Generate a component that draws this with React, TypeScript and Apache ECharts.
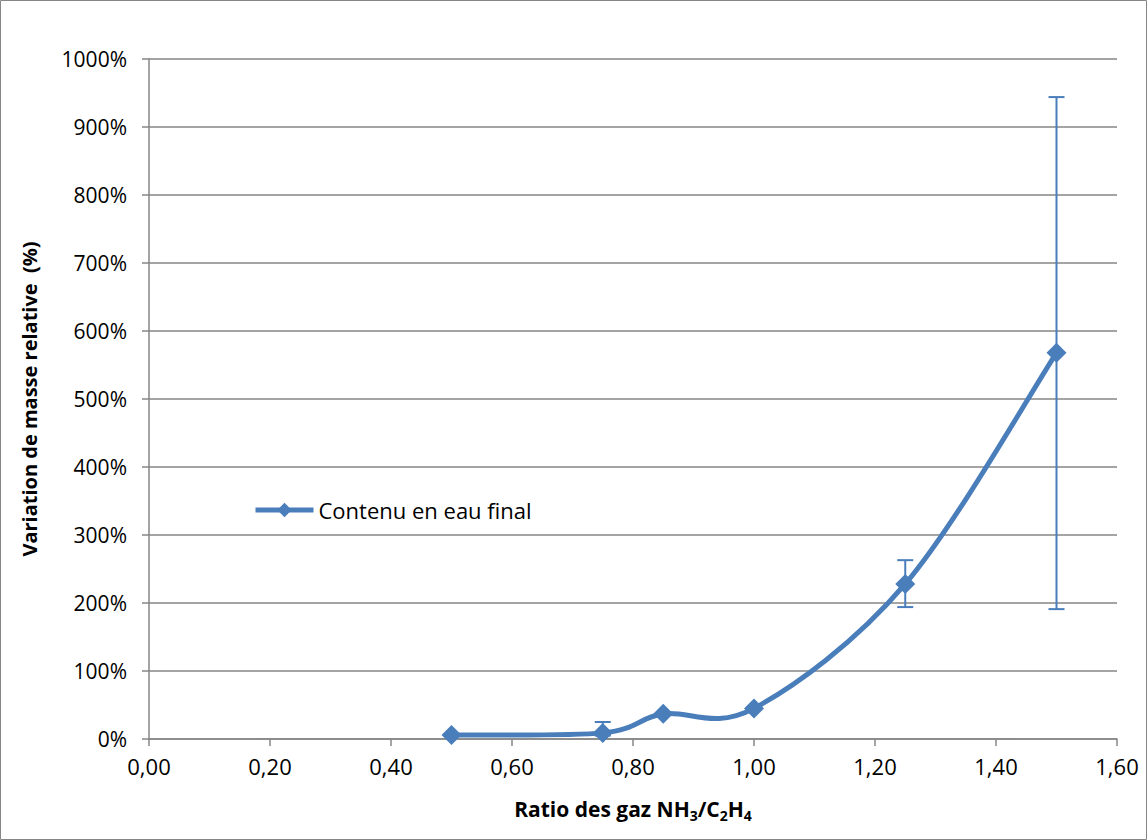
import React, { useEffect, useRef } from "react";
import * as echarts from "echarts";

const ratios = [0.5, 0.75, 0.85, 1.0, 1.25, 1.5];
const waterContent = [6, 9, 37, 45, 228, 568];
const errLow = [6, 5, 37, 45, 194, 191];
const errHigh = [6, 25, 37, 45, 263, 944];
const seriesName = "Contenu en eau final";
const yTitle = "Variation de masse relative  (%)";

const BLUE = "#4A7EBB";
const GRAY = "#868686";
const FONT = "'Open Sans', 'Noto Sans', sans-serif";

export default function App() {
  const ref = useRef<HTMLDivElement>(null);
  useEffect(() => {
    const chart = echarts.init(ref.current!, null, { renderer: "svg" });
    const errData = ratios
      .map((x, i) => [x, errLow[i], errHigh[i]])
      .filter((d) => d[1] !== d[2]);
    const pts = ratios.map((x, i) => [x, waterContent[i]]);
    chart.setOption({
      animation: false,
      backgroundColor: "#fff",
      grid: { left: 149, right: 30, top: 59, bottom: 101 },
      legend: {
        left: 248,
        top: 494,
        itemWidth: 58,
        itemHeight: 18,
        itemGap: 4,
        textStyle: { fontFamily: FONT, fontSize: 22, color: "#000" },
        data: [
          {
            name: seriesName,
            lineStyle: { color: BLUE, width: 5, opacity: 1 },
            itemStyle: { color: BLUE },
          },
        ],
      },
      xAxis: {
        type: "value",
        min: 0,
        max: 1.6,
        interval: 0.2,
        name: "{b|Ratio des gaz NH}{s|3}{b|/C}{s|2}{b|H}{s|4}",
        nameLocation: "middle",
        nameGap: 56,
        nameTextStyle: {
          rich: {
            b: { fontFamily: FONT, fontSize: 21, fontWeight: "bold", color: "#000" },
            s: { fontFamily: FONT, fontSize: 14, fontWeight: "bold", color: "#000", padding: [13, 0, 0, 0] },
          },
        },
        axisLine: { show: true, lineStyle: { color: GRAY, width: 1.5 } },
        axisTick: { show: true, length: 7, lineStyle: { color: GRAY, width: 1.5 } },
        axisLabel: {
          fontFamily: FONT,
          fontSize: 22,
          color: "#000",
          margin: 16,
          formatter: (v: number) => v.toFixed(2).replace(".", ","),
        },
        splitLine: { show: false },
      },
      yAxis: {
        type: "value",
        min: 0,
        max: 1000,
        interval: 100,
        name: yTitle,
        nameLocation: "middle",
        nameGap: 110,
        nameTextStyle: { fontFamily: FONT, fontSize: 20, fontWeight: "bold", color: "#000" },
        axisLine: { show: true, lineStyle: { color: GRAY, width: 1.5 } },
        axisTick: { show: true, length: 7, lineStyle: { color: GRAY, width: 1.5 } },
        axisLabel: {
          fontFamily: FONT,
          fontSize: 21,
          color: "#000",
          margin: 22,
          formatter: (v: number) => v + "%",
        },
        splitLine: { show: true, lineStyle: { color: GRAY, width: 1.5 } },
      },
      graphic: [
        {
          type: "rect",
          shape: { x: 0.5, y: 0.5, width: 1146, height: 839 },
          style: { fill: "none", stroke: GRAY, lineWidth: 1 },
          silent: true,
        },
      ],
      series: [
        {
          type: "custom",
          z: 2,
          data: pts,
          renderItem: (params: any, api: any) => {
            const i = params.dataIndex;
            if (i >= pts.length - 1) return null;
            const P = (k: number) => {
              const kk = Math.max(0, Math.min(pts.length - 1, k));
              return api.coord(pts[kk]);
            };
            const p0 = P(i - 1), p1 = P(i), p2 = P(i + 1), p3 = P(i + 2);
            const c1 = [p1[0] + (p2[0] - p0[0]) / 6, p1[1] + (p2[1] - p0[1]) / 6];
            const c2 = [p2[0] - (p3[0] - p1[0]) / 6, p2[1] - (p3[1] - p1[1]) / 6];
            return {
              type: "bezierCurve",
              shape: {
                x1: p1[0], y1: p1[1],
                cpx1: c1[0], cpy1: c1[1],
                cpx2: c2[0], cpy2: c2[1],
                x2: p2[0], y2: p2[1],
              },
              style: { stroke: BLUE, lineWidth: 5, fill: "none", lineCap: "round" },
            };
          },
        },
        {
          name: seriesName,
          type: "line",
          data: pts,
          symbol: "diamond",
          symbolSize: 20,
          itemStyle: { color: BLUE },
          lineStyle: { color: BLUE, width: 5, opacity: 0 },
          z: 3,
        },
        {
          type: "custom",
          z: 4,
          data: errData,
          renderItem: (params: any, api: any) => {
            const x = api.value(0);
            const lo = api.coord([x, api.value(1)]);
            const hi = api.coord([x, api.value(2)]);
            const cap = 8;
            const style = { stroke: BLUE, lineWidth: 2 };
            return {
              type: "group",
              children: [
                { type: "line", shape: { x1: lo[0], y1: lo[1], x2: hi[0], y2: hi[1] }, style },
                { type: "line", shape: { x1: hi[0] - cap, y1: hi[1], x2: hi[0] + cap, y2: hi[1] }, style },
                { type: "line", shape: { x1: lo[0] - cap, y1: lo[1], x2: lo[0] + cap, y2: lo[1] }, style },
              ],
            };
          },
        },
      ],
    });
    return () => chart.dispose();
  }, []);
  return (
    <div
      ref={ref}
      style={{ position: "fixed", left: 0, top: 0, width: 1147, height: 840 }}
    />
  );
}
